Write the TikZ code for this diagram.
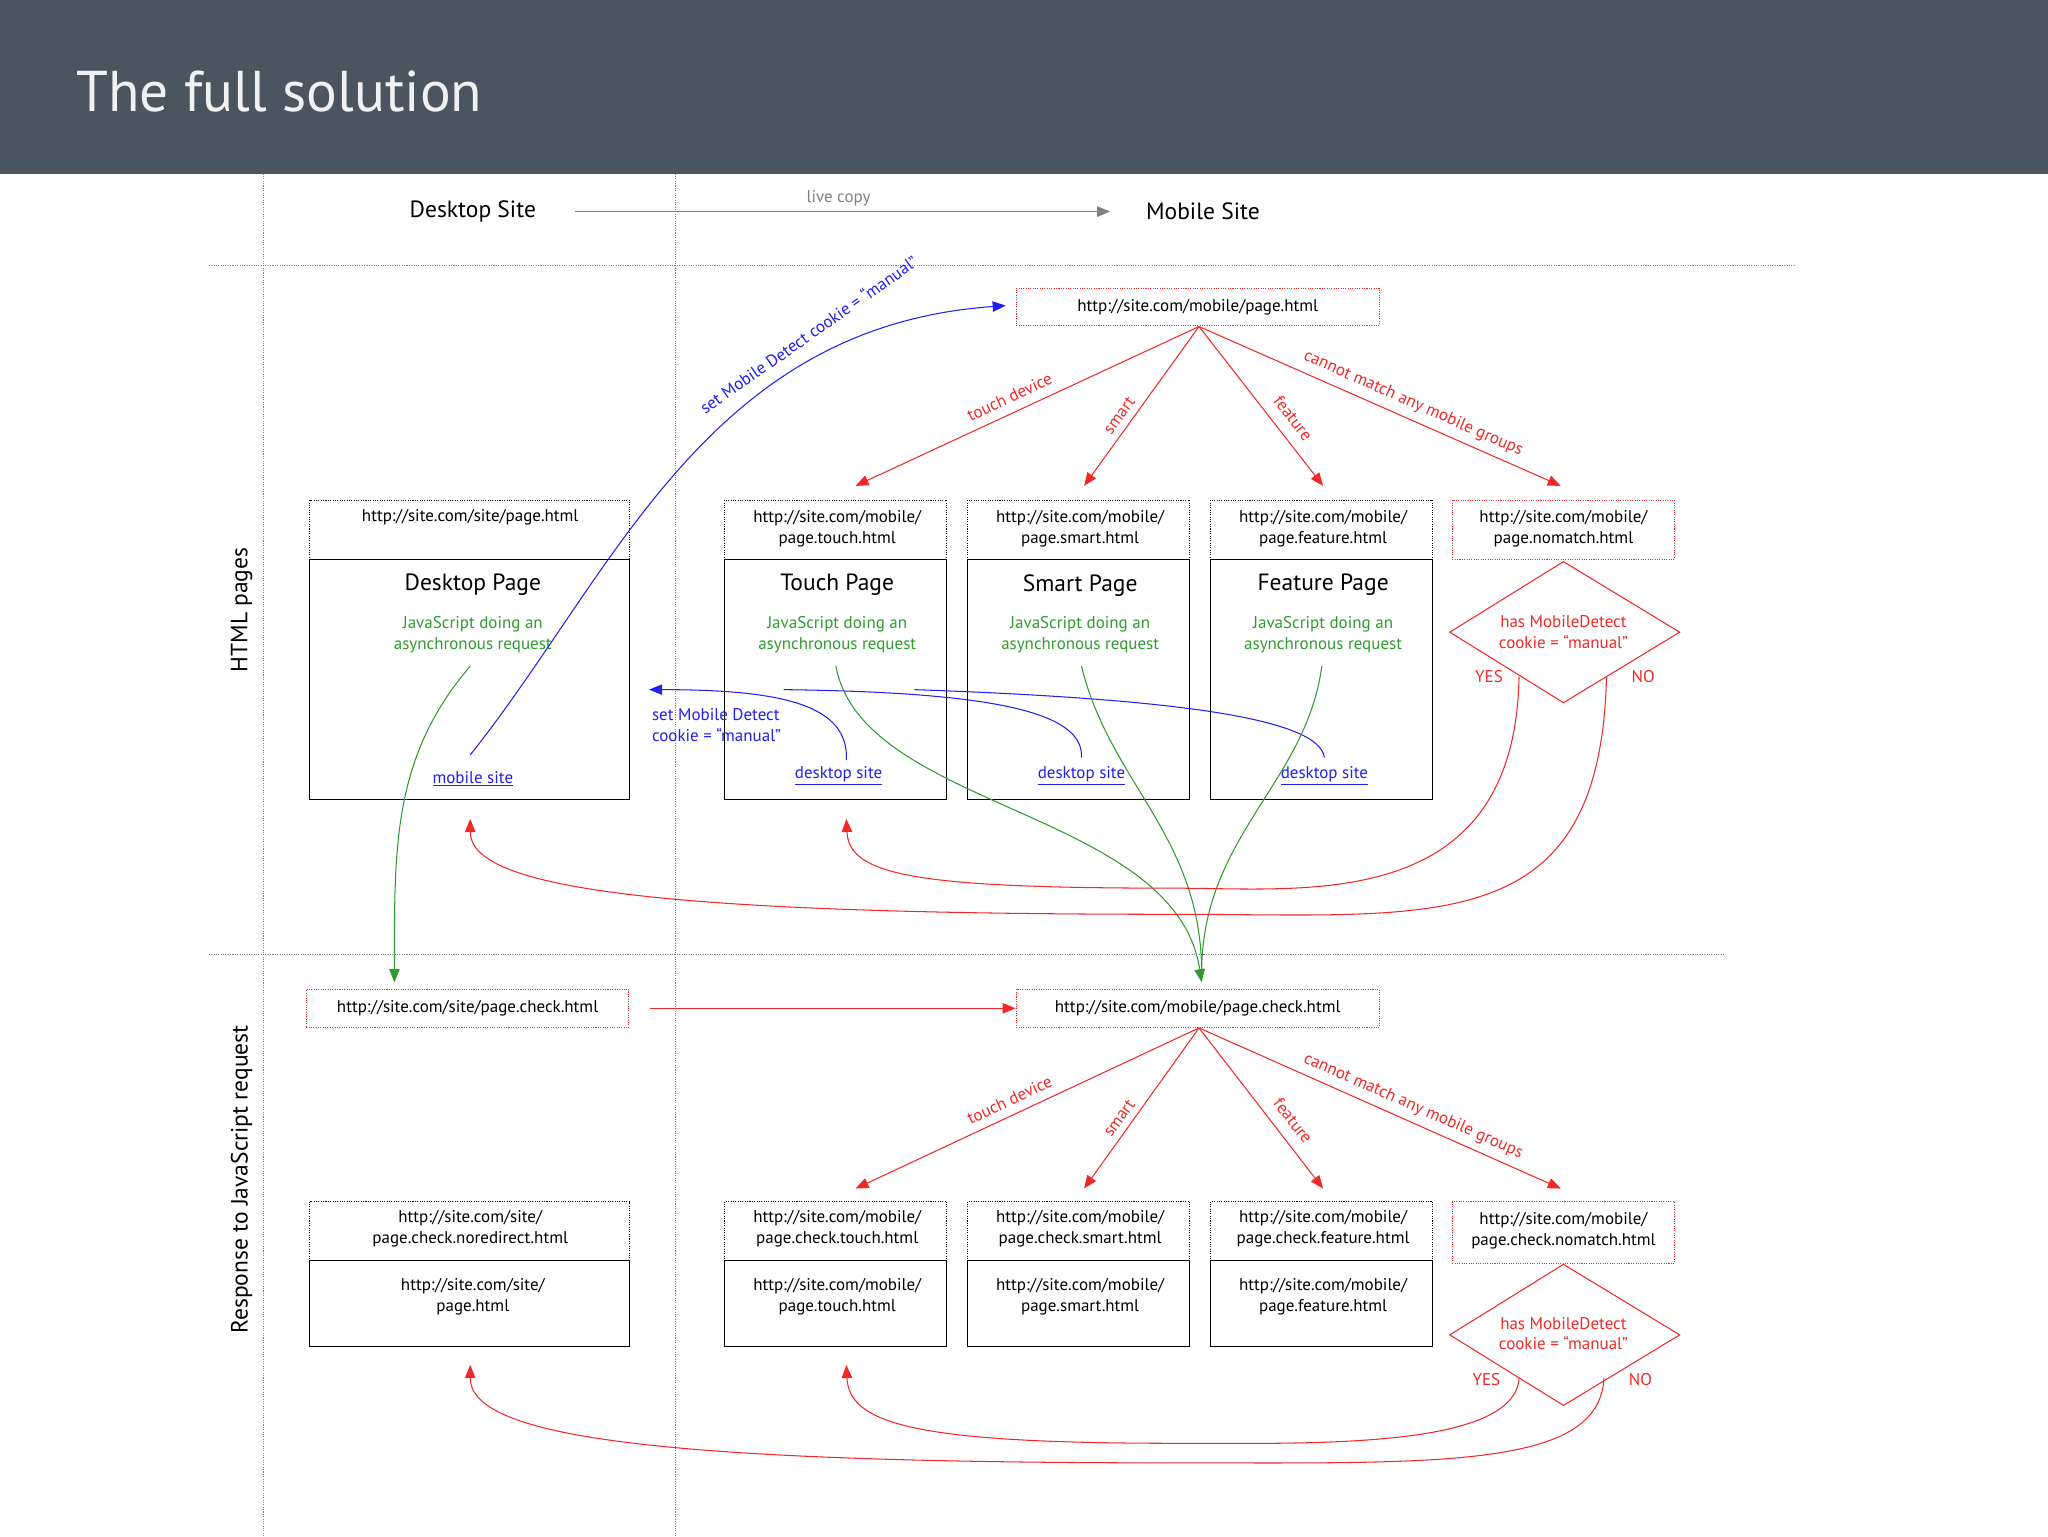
\documentclass[tikz,border=0pt]{standalone}
\usepackage{fontspec}
\setmainfont{PT Sans}
\usetikzlibrary{arrows.meta}
\definecolor{hdr}{HTML}{4A5560}
\definecolor{rd}{HTML}{F02828}
\definecolor{gr}{HTML}{2E9A2E}
\definecolor{bl}{HTML}{2020F0}
\begin{document}
\begin{tikzpicture}[x=1pt,y=-1pt,
 sm/.style={font=\fontsize{13}{16}\selectfont,align=center,inner sep=0},
 ttl/.style={font=\fontsize{18}{20}\selectfont,inner sep=0},
 grt/.style={sm,text=gr},
 rdt/.style={sm,text=rd},
 blt/.style={sm,text=bl},
 dbox/.style={draw,densely dotted,thick},
 rbox/.style={draw=rd,densely dotted,thick},
 sbox/.style={draw,thick},
 rarr/.style={rd,thick,-{Triangle[length=10pt,width=8pt]}},
 garr/.style={gr,thick,-{Triangle[length=10pt,width=8pt]}},
 barr/.style={bl,thick,-{Triangle[length=10pt,width=8pt]}},
 sep/.style={gray,densely dotted,thick}]
\useasboundingbox (0,0) rectangle (1568,1176);
\fill[hdr] (0,0) rectangle (1568,133);
\node[anchor=west,text=white!92!hdr,font=\fontsize{44}{50}\selectfont] (title) at (55,70) {The full solution};
% separators
\draw[sep] (202,133) -- (202,1176);
\draw[sep] (517,133) -- (517,1176);
\draw[sep] (160,203) -- (1375,203);
\draw[sep] (160,731) -- (1320,731);
\node[ttl] (ds) at (362,162) {Desktop Site};
\node[ttl] (ms) at (921,162) {Mobile Site};
\draw[gray,thick,-{Triangle[length=10pt,width=8pt]}] (440,162) -- (850,162);
\node[sm,text=gray] (lc) at (642,152) {live copy};
\node[ttl,rotate=90] (hp) at (185,467) {HTML pages};
\node[ttl,rotate=90] (rj) at (185,903) {Response to JavaScript request};

% ---------- top section
\node[rbox,sm,minimum width=278pt,minimum height=28pt] (mp) at (917,235) {http://site.com/mobile/page.html};
\coordinate (mps) at (918,250);
\coordinate (t1) at (655,372); \coordinate (t2) at (830,372);
\coordinate (t3) at (1013,372); \coordinate (t4) at (1195,372);
\foreach \t in {t1,t2,t3,t4} \draw[rarr] (mps) -- (\t);
\node[rdt,rotate=24.9] (l1) at (773,304) {touch device};
\node[rdt,rotate=54] (l2) at (857,318) {smart};
\node[rdt,rotate=-52] (l3) at (990,320) {feature};
\node[rdt,rotate=-23.8] (l4) at (1082,309) {cannot match any mobile groups};

% desktop
\draw[dbox] (237,383) rectangle (482,428);
\node[sm] (dh) at (360,396) {http://site.com/site/page.html};
\draw[sbox] (237,428) rectangle (482,612);
\node[ttl] (dt) at (362,448) {Desktop Page};
\node[grt] (dg) at (362,486) {JavaScript doing an\\asynchronous request};
\node[blt] (dl) at (362,596) {\underline{mobile site}};
% touch, smart, feature
\foreach \n/\x/\a/\b in {tp/555/touch/Touch,spp/741/smart/Smart,fp/927/feature/Feature}{
 \draw[dbox] (\x,383) rectangle (\x+170,428);
 \node[sm] (\n h) at (\x+86,405) {http://site.com/mobile/\\page.\a.html};
 \draw[sbox] (\x,428) rectangle (\x+170,612);
 \node[ttl] (\n t) at (\x+86,448) {\b\ Page};
 \node[grt] (\n g) at (\x+86,486) {JavaScript doing an\\asynchronous request};
 \node[blt] (\n l) at (\x+87,594) {\underline{desktop site}};
}
% nomatch
\draw[rbox] (1112,383) rectangle (1282,428);
\node[sm] (nh) at (1197,405) {http://site.com/mobile/\\page.nomatch.html};
\draw[rd,thick] (1197,430) -- (1286,484) -- (1197,538) -- (1110,484) -- cycle;
\node[rdt] (nd) at (1197,484) {has MobileDetect\\cookie = “manual”};
\node[rdt] (ny) at (1140,518) {YES};
\node[rdt] (nn) at (1258,518) {NO};

% blue
\draw[barr] (360,578) .. controls (470,440) and (540,250) .. (770,234);
\node[blt,rotate=35] (bl1) at (619,256) {set Mobile Detect cookie = “manual”};
\coordinate (ba) at (497,528);
\draw[barr] (648,582) .. controls (650,540) and (600,528) .. (ba);
\draw[bl,thick] (828,580) .. controls (830,545) and (760,530) .. (600,528);
\draw[bl,thick] (1014,580) .. controls (1010,550) and (900,535) .. (700,528);
\node[blt,align=left,anchor=west] (bl2) at (499,555) {set Mobile Detect\\cookie = “manual”};

% green
\coordinate (gd) at (302,752); \coordinate (gm) at (920,752);
\draw[garr] (360,510) .. controls (300,580) and (302,650) .. (gd);
\draw[garr] (640,510) .. controls (660,620) and (900,620) .. (gm);
\draw[gr,thick] (828,510) .. controls (850,600) and (920,640) .. (920,745);
\draw[gr,thick] (1012,510) .. controls (1000,600) and (920,640) .. (920,745);

% red returns
\draw[rarr] (1163,518) .. controls (1160,700) and (1000,680) .. (900,680) .. controls (700,680) and (650,670) .. (648,627);
\draw[rarr] (1230,518) .. controls (1225,720) and (1100,700) .. (900,700) .. controls (500,700) and (360,680) .. (360,627);

% ---------- bottom section
\node[rbox,sm,minimum width=247pt,minimum height=29pt] (dc) at (358,772) {http://site.com/site/page.check.html};
\node[rbox,sm,minimum width=278pt,minimum height=29pt] (mc) at (917,772) {http://site.com/mobile/page.check.html};
\draw[rarr] (498,772) -- (mc.west);
\coordinate (mcs) at (918,787);
\coordinate (u1) at (655,910); \coordinate (u2) at (830,910);
\coordinate (u3) at (1013,910); \coordinate (u4) at (1195,910);
\foreach \t in {u1,u2,u3,u4} \draw[rarr] (mcs) -- (\t);
\node[rdt,rotate=24.9] (k1) at (773,842) {touch device};
\node[rdt,rotate=54] (k2) at (857,856) {smart};
\node[rdt,rotate=-52] (k3) at (990,858) {feature};
\node[rdt,rotate=-23.8] (k4) at (1082,847) {cannot match any mobile groups};

\draw[dbox] (237,920) rectangle (482,965);
\node[sm] (bdh) at (360,941) {http://site.com/site/\\page.check.noredirect.html};
\draw[sbox] (237,965) rectangle (482,1031);
\node[sm] (bdb) at (362,993) {http://site.com/site/\\page.html};
\foreach \n/\x/\a in {btp/555/touch,bsp/741/smart,bfp/927/feature}{
 \draw[dbox] (\x,920) rectangle (\x+170,965);
 \node[sm] (\n h) at (\x+86,941) {http://site.com/mobile/\\page.check.\a.html};
 \draw[sbox] (\x,965) rectangle (\x+170,1031);
 \node[sm] (\n b) at (\x+86,993) {http://site.com/mobile/\\page.\a.html};
}
\draw[rbox] (1112,920) rectangle (1282,967);
\node[sm] (bnh) at (1197,942) {http://site.com/mobile/\\page.check.nomatch.html};
\draw[rd,thick] (1197,968) -- (1286,1022) -- (1197,1076) -- (1110,1022) -- cycle;
\node[rdt] (bnd) at (1197,1021) {has MobileDetect\\cookie = “manual”};
\node[rdt] (bny) at (1138,1056) {YES};
\node[rdt] (bnn) at (1256,1056) {NO};
\draw[rarr] (1163,1055) .. controls (1160,1110) and (1000,1105) .. (900,1105) .. controls (700,1105) and (650,1090) .. (648,1045);
\draw[rarr] (1228,1055) .. controls (1225,1125) and (1100,1120) .. (900,1120) .. controls (500,1120) and (360,1100) .. (360,1045);
\end{tikzpicture}
\end{document}
